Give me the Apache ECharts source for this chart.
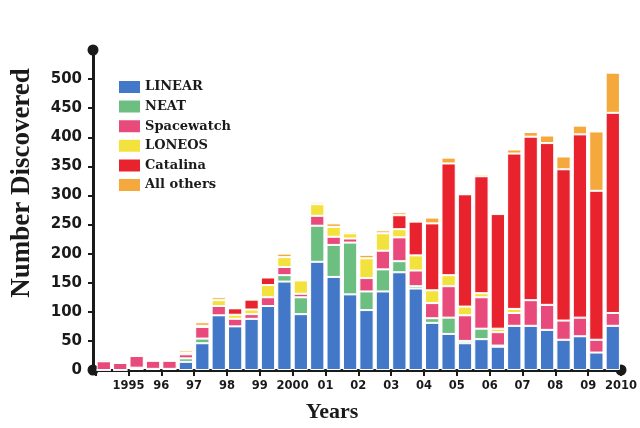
<!DOCTYPE html>
<html><head><meta charset="utf-8">
<script src="https://cdn.jsdelivr.net/npm/echarts@6/dist/echarts.min.js"></script>
<style>html,body{margin:0;padding:0;background:#fff}#c{width:640px;height:428px}</style>
</head><body><div id="c"></div>
<script>
// Half-year periods, 1994 H1 .. 2009 H2
const periods = ['1994 H1','1994 H2','1995 H1','1995 H2','1996 H1','1996 H2','1997 H1','1997 H2',
  '1998 H1','1998 H2','1999 H1','1999 H2','2000 H1','2000 H2','2001 H1','2001 H2',
  '2002 H1','2002 H2','2003 H1','2003 H2','2004 H1','2004 H2','2005 H1','2005 H2',
  '2006 H1','2006 H2','2007 H1','2007 H2','2008 H1','2008 H2','2009 H1','2009 H2'];
const linear     = [0,0,3,2,2,14, 46,94,75,88,110,152, 96,186,160,130,103,135, 168,140,81,62,46,53, 40,76,76,69,52,58,30,76];
const neat       = [0,0,1,0,0,6,  8,0,0,0,0,11,        29,62,55,89,32,38,      19,4,8,28,4,18,       2,0,0,0,0,0,0,0];
const spacewatch = [15,12,20,14,14,7, 20,16,13,8,15,14, 6,17,14,7,23,32,      41,27,26,54,44,54,    23,22,44,43,33,32,22,22];
const loneos     = [0,0,2,0,0,3,  2,10,7,8,21,17,      23,20,17,9,34,30,      14,26,22,19,15,7,     6,7,0,0,0,0,0,0];
const catalina   = [0,0,0,0,0,0,  0,0,11,17,13,0,      0,0,0,0,0,0,           24,58,115,192,193,201, 197,267,281,278,260,315,256,344];
const others     = [3,1,3,1,1,4,  6,5,0,0,0,6,         0,4,6,3,6,5,           5,3,10,10,0,4,        2,7,8,13,22,15,102,69];

const seriesNames = ['LINEAR','NEAT','Spacewatch','LONEOS','Catalina','All others'];
const seriesColors = ['#4378c9','#6cbf80','#e84a7c','#f3e23e','#e8232d','#f5a93d'];
const seriesData = [linear, neat, spacewatch, loneos, catalina, others];
const yTicks = [0,50,100,150,200,250,300,350,400,450,500];

const chart = echarts.init(document.getElementById('c'), null, {renderer:'canvas'});
const series = seriesNames.map((n,i)=>({
  name:n, type:'bar', stack:'total', xAxisIndex:0, yAxisIndex:0,
  data: seriesData[i],
  barCategoryGap:'13%',
  itemStyle:{color:seriesColors[i], borderColor:'#fff', borderWidth:1},
  emphasis:{disabled:true}
}));
chart.setOption({
  animation:false,
  backgroundColor:'#fff',
  grid:{left:95.6, right:10.6, top:50, bottom:58},
  legend:{
    orient:'vertical', left:112, top:74, itemWidth:23, itemHeight:14, itemGap:3.6,
    icon:'rect', data:seriesNames,
    textStyle:{fontFamily:'DejaVu Serif', fontWeight:'bold', fontSize:13, color:'#1a1a1a', padding:[0,0,0,-1]}
  },
  xAxis:[
    {type:'category', data:periods, show:false, boundaryGap:true},
    {type:'value', min:1994, max:2010, interval:1, position:'bottom',
     axisLine:{show:true, symbol:['none','circle'], symbolSize:[11,11], lineStyle:{color:'#1a1a1a', width:3}},
     axisTick:{show:true, length:6, lineStyle:{color:'#1a1a1a', width:2}},
     splitLine:{show:false},
     axisLabel:{margin:10, fontFamily:'DejaVu Sans', fontWeight:'bold', fontSize:11.5, color:'#1a1a1a',
       formatter:v=>{ if(v===1994) return ''; if(v===1995||v===2000||v===2010) return String(v); return String(v).slice(2);} }
    }
  ],
  yAxis:{
    type:'value', min:0, max:550, interval:50, offset:2.6,
    axisLine:{show:true, symbol:['circle','circle'], symbolSize:[11,11], lineStyle:{color:'#1a1a1a', width:3}},
    axisTick:{show:true, length:5, customValues:yTicks, lineStyle:{color:'#1a1a1a', width:2}},
    axisLabel:{customValues:yTicks, margin:11, fontFamily:'DejaVu Sans', fontWeight:'bold', fontSize:15, color:'#1a1a1a'},
    splitLine:{show:false}
  },
  graphic:[
    {type:'text', x:22, y:183, rotation:Math.PI/2,
     style:{text:'Number Discovered', font:'bold 27px "Liberation Serif"', fill:'#1a1a1a', align:'center', verticalAlign:'middle'}},
    {type:'text', x:332, y:412,
     style:{text:'Years', font:'bold 22px "Liberation Serif"', fill:'#1a1a1a', align:'center', verticalAlign:'middle'}}
  ],
  series
});
</script></body></html>
